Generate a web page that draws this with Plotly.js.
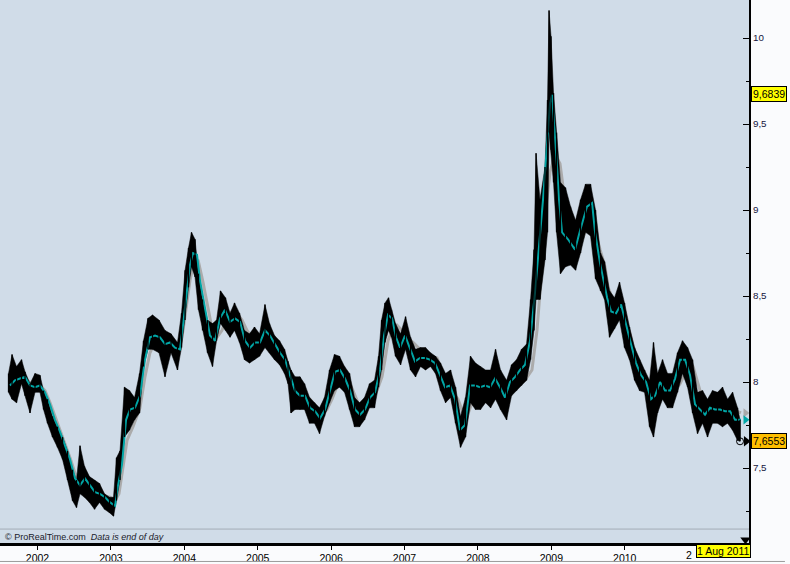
<!DOCTYPE html>
<html><head><meta charset="utf-8">
<script src="https://cdn.plot.ly/plotly-3.0.1.min.js"></script>
<style>html,body{margin:0;padding:0;background:#fafbfd;} #chart{width:790px;height:564px;}</style>
</head><body><div id="chart"></div>
<script>
// Price: decimal-year sample times with high / low of the bars around them
const priceT = [2001.605,2001.653,2001.714,2001.782,2001.830,2001.898,2001.966,2002.034,2002.082,2002.136,
2002.204,2002.272,2002.341,2002.409,2002.477,2002.531,2002.579,2002.640,2002.708,2002.777,
2002.845,2002.913,2002.981,2003.035,2003.076,2003.124,2003.185,2003.253,2003.322,2003.390,
2003.444,2003.505,2003.567,2003.655,2003.737,2003.819,2003.907,2003.962,2004.010,2004.057,
2004.098,2004.146,2004.193,2004.248,2004.316,2004.384,2004.439,2004.493,2004.561,2004.623,
2004.684,2004.752,2004.820,2004.888,2004.956,2005.025,2005.099,2005.161,2005.229,2005.297,
2005.365,2005.413,2005.454,2005.508,2005.576,2005.638,2005.706,2005.774,2005.842,2005.910,
2005.978,2006.046,2006.114,2006.183,2006.251,2006.319,2006.387,2006.455,2006.523,2006.591,
2006.646,2006.687,2006.734,2006.782,2006.823,2006.877,2006.946,2007.014,2007.082,2007.150,
2007.218,2007.286,2007.354,2007.422,2007.490,2007.559,2007.627,2007.695,2007.763,2007.831,
2007.899,2007.967,2008.035,2008.104,2008.172,2008.240,2008.308,2008.390,2008.458,2008.526,
2008.594,2008.662,2008.717,2008.764,2008.792,2008.846,2008.914,2008.948,2008.969,2008.996,
2009.030,2009.071,2009.125,2009.193,2009.262,2009.330,2009.398,2009.466,2009.534,2009.602,
2009.670,2009.725,2009.793,2009.861,2009.929,2009.997,2010.065,2010.134,2010.202,2010.270,
2010.338,2010.392,2010.447,2010.515,2010.583,2010.651,2010.719,2010.787,2010.856,2010.924,
2010.992,2011.060,2011.128,2011.196,2011.264,2011.332,2011.401,2011.469,2011.537,2011.571];
const priceHigh = [8.05,8.16,8.09,8.13,8.06,7.99,8.05,8.04,7.95,7.90,
7.80,7.74,7.68,7.60,7.49,7.43,7.63,7.51,7.45,7.43,
7.41,7.35,7.33,7.33,7.56,7.60,7.97,7.95,7.91,8.05,
8.24,8.37,8.39,8.36,8.30,8.28,8.23,8.40,8.65,8.78,
8.87,8.83,8.63,8.48,8.36,8.34,8.36,8.53,8.49,8.40,
8.46,8.40,8.30,8.28,8.32,8.28,8.45,8.34,8.27,8.24,
8.19,8.12,8.07,8.03,8.03,7.99,7.91,7.88,7.85,7.91,
8.07,8.16,8.15,8.09,8.05,7.91,7.88,7.91,7.99,8.01,
8.15,8.36,8.46,8.49,8.42,8.34,8.28,8.38,8.26,8.19,
8.20,8.20,8.17,8.15,8.11,8.05,8.07,7.97,7.80,7.91,
8.15,8.11,8.09,8.07,8.07,8.19,8.07,8.01,8.10,8.13,
8.19,8.22,8.48,8.77,9.33,9.06,9.25,9.64,10.16,10.01,
9.68,9.45,9.16,9.13,9.02,8.94,9.06,9.15,9.15,9.00,
8.75,8.70,8.53,8.49,8.58,8.46,8.32,8.20,8.13,8.07,
8.01,8.23,8.05,8.13,8.05,8.05,8.17,8.24,8.20,8.13,
7.94,7.95,7.90,7.95,7.94,7.97,7.90,7.94,7.85,7.78];
const priceLow = [7.94,7.90,7.88,7.99,7.92,7.82,7.94,7.94,7.84,7.76,
7.68,7.62,7.55,7.43,7.31,7.27,7.35,7.33,7.30,7.26,
7.30,7.26,7.24,7.22,7.31,7.43,7.68,7.72,7.78,7.82,
8.09,8.19,8.19,8.17,8.03,8.17,8.07,8.20,8.36,8.55,
8.67,8.61,8.42,8.30,8.17,8.09,8.24,8.34,8.30,8.26,
8.30,8.23,8.13,8.11,8.13,8.15,8.20,8.17,8.13,8.10,
8.05,7.99,7.82,7.84,7.84,7.84,7.76,7.76,7.70,7.80,
7.88,7.95,7.97,7.94,7.84,7.74,7.74,7.78,7.85,7.85,
7.97,8.07,8.23,8.30,8.26,8.15,8.10,8.19,8.07,8.03,
8.09,8.07,8.09,8.05,7.95,7.88,7.91,7.76,7.62,7.68,
7.88,7.84,7.84,7.88,7.85,7.90,7.84,7.78,7.92,7.95,
7.98,8.01,8.13,8.30,8.48,8.48,8.71,8.87,9.45,9.35,
9.16,8.87,8.63,8.67,8.68,8.65,8.75,8.87,8.85,8.60,
8.53,8.48,8.26,8.31,8.36,8.20,8.13,8.01,7.95,7.94,
7.74,7.68,7.82,7.90,7.85,7.85,7.94,8.05,7.97,7.82,
7.70,7.76,7.68,7.76,7.76,7.74,7.76,7.72,7.66,7.6553];

// Short moving average (cyan)
const fastT = [2001.625,2001.693,2001.762,2001.830,2001.898,2001.966,2002.034,2002.102,2002.170,2002.238,
2002.307,2002.375,2002.443,2002.511,2002.579,2002.647,2002.715,2002.783,2002.851,2002.920,
2002.988,2003.056,2003.097,2003.151,2003.206,2003.260,2003.328,2003.396,2003.464,2003.532,
2003.601,2003.669,2003.737,2003.805,2003.873,2003.941,2003.982,2004.036,2004.077,2004.118,
2004.173,2004.214,2004.282,2004.350,2004.418,2004.486,2004.554,2004.623,2004.691,2004.759,
2004.827,2004.895,2004.963,2005.031,2005.099,2005.167,2005.236,2005.304,2005.372,2005.440,
2005.508,2005.576,2005.644,2005.713,2005.781,2005.849,2005.917,2005.985,2006.053,2006.121,
2006.189,2006.258,2006.326,2006.394,2006.462,2006.530,2006.598,2006.666,2006.721,2006.775,
2006.830,2006.884,2006.939,2007.007,2007.075,2007.143,2007.211,2007.279,2007.347,2007.416,
2007.484,2007.552,2007.620,2007.688,2007.756,2007.824,2007.893,2007.961,2008.029,2008.097,
2008.165,2008.233,2008.301,2008.369,2008.437,2008.506,2008.574,2008.642,2008.710,2008.778,
2008.887,2008.941,2008.982,2009.010,2009.050,2009.078,2009.105,2009.146,2009.227,2009.323,
2009.391,2009.486,2009.555,2009.596,2009.664,2009.760,2009.814,2009.882,2009.950,2010.018,
2010.086,2010.154,2010.222,2010.290,2010.358,2010.413,2010.481,2010.549,2010.617,2010.686,
2010.754,2010.822,2010.890,2010.958,2011.026,2011.094,2011.162,2011.230,2011.299,2011.367,
2011.435,2011.503,2011.584];
const fastV = [7.98,8.01,8.02,8.03,7.98,7.97,7.98,7.94,7.87,7.78,
7.71,7.63,7.55,7.44,7.40,7.44,7.40,7.36,7.35,7.33,
7.30,7.28,7.40,7.52,7.78,7.84,7.85,7.92,8.13,8.26,
8.27,8.26,8.22,8.23,8.20,8.19,8.33,8.53,8.68,8.75,
8.74,8.59,8.42,8.27,8.24,8.37,8.42,8.35,8.37,8.35,
8.24,8.20,8.23,8.23,8.30,8.27,8.22,8.17,8.13,8.04,
7.95,7.92,7.92,7.85,7.83,7.79,7.84,7.95,8.06,8.07,
8.02,7.95,7.84,7.81,7.84,7.91,7.94,8.07,8.27,8.39,
8.37,8.26,8.20,8.27,8.19,8.12,8.14,8.14,8.13,8.11,
8.04,7.97,7.98,7.90,7.72,7.75,7.98,7.98,7.97,7.98,
7.97,8.02,7.97,7.91,8.00,8.03,8.07,8.10,8.24,8.52,
9.06,9.35,9.62,9.67,9.45,9.25,9.06,8.87,8.83,8.77,
8.88,9.02,9.04,8.87,8.69,8.49,8.41,8.40,8.45,8.33,
8.22,8.11,8.04,8.00,7.90,7.92,8.00,7.95,7.95,8.02,
8.13,8.13,8.04,7.87,7.84,7.81,7.85,7.84,7.84,7.83,
7.83,7.78,7.78];

// Long moving average (grey)
const slowT = [2001.625,2001.762,2001.857,2001.939,2002.034,2002.102,2002.170,2002.238,2002.307,2002.375,
2002.443,2002.511,2002.579,2002.674,2002.743,2002.811,2002.892,2002.988,2003.056,2003.110,
2003.165,2003.219,2003.301,2003.396,2003.464,2003.532,2003.601,2003.710,2003.805,2003.941,
2003.982,2004.036,2004.077,2004.118,2004.187,2004.255,2004.309,2004.350,2004.391,2004.446,
2004.514,2004.582,2004.650,2004.718,2004.786,2004.854,2004.923,2004.991,2005.072,2005.140,
2005.208,2005.263,2005.345,2005.413,2005.508,2005.617,2005.713,2005.808,2005.876,2005.944,
2006.012,2006.094,2006.217,2006.298,2006.394,2006.462,2006.530,2006.625,2006.693,2006.734,
2006.775,2006.830,2006.898,2006.966,2007.034,2007.116,2007.211,2007.347,2007.443,2007.511,
2007.579,2007.661,2007.729,2007.797,2007.852,2007.920,2007.988,2008.069,2008.165,2008.260,
2008.342,2008.437,2008.546,2008.641,2008.736,2008.805,2008.873,2008.914,2008.982,2009.050,
2009.118,2009.159,2009.214,2009.282,2009.350,2009.432,2009.500,2009.555,2009.596,2009.664,
2009.732,2009.773,2009.841,2009.936,2010.004,2010.072,2010.140,2010.208,2010.277,2010.345,
2010.413,2010.481,2010.617,2010.686,2010.754,2010.822,2010.890,2010.931,2010.985,2011.026,
2011.094,2011.162,2011.230,2011.299,2011.394,2011.476,2011.584];
const slowV = [7.99,8.04,8.01,7.98,7.98,7.95,7.88,7.80,7.72,7.65,
7.56,7.47,7.43,7.44,7.43,7.37,7.34,7.33,7.31,7.35,
7.51,7.66,7.74,7.85,8.03,8.17,8.23,8.22,8.23,8.20,
8.30,8.46,8.59,8.67,8.71,8.58,8.46,8.36,8.28,8.26,
8.30,8.38,8.41,8.40,8.36,8.30,8.26,8.24,8.24,8.26,
8.24,8.20,8.15,8.08,7.97,7.91,7.90,7.85,7.82,7.84,
7.90,7.99,8.03,7.95,7.85,7.84,7.90,7.95,8.03,8.13,
8.24,8.30,8.33,8.30,8.26,8.23,8.19,8.15,8.14,8.07,
7.99,7.94,7.90,7.82,7.80,7.88,7.94,7.97,7.97,7.97,
7.97,7.95,7.98,8.01,8.07,8.30,8.67,8.96,9.22,9.32,
9.27,9.13,8.96,8.83,8.81,8.84,8.93,8.95,8.88,8.77,
8.67,8.55,8.48,8.42,8.38,8.28,8.17,8.09,8.03,7.97,
7.94,7.94,7.95,7.95,7.99,8.05,8.11,8.09,8.01,7.95,
7.88,7.82,7.82,7.84,7.84,7.84,7.82];

const yearTicks = [2002,2003,2004,2005,2006,2007,2008,2009,2010];
const yearLabels = ['2002','2003','2004','2005','2006','2007','2008','2009','2010'];
const hiddenYearLabel = '2';      // only visible part of "2011", the rest is covered by the date box
const lastClose = 7.6553;
const lastDateLabel = '1 Aug 2011';
const markLevel = 9.6839;

const fmt = v => v.toFixed(4).replace('.', ',');

// high/low envelope polygon and vertical bars
const envX = priceT.concat(priceT.slice().reverse());
const envY = priceHigh.concat(priceLow.slice().reverse());
const bx = [], by = [];
for (let i = 0; i < priceT.length; i++) {
  bx.push(priceT[i], priceT[i], null);
  by.push(priceLow[i], priceHigh[i], null);
}

const lastT = priceT[priceT.length - 1];
const endT = 2011.645;

const traces = [
  {x: slowT, y: slowV, type: 'scatter', mode: 'lines', line: {color: '#ababab', width: 3}, hoverinfo: 'skip'},
  {x: envX, y: envY, type: 'scatter', mode: 'lines', fill: 'toself', fillcolor: '#000000',
   line: {color: '#000000', width: 0.5}, hoverinfo: 'skip'},
  {x: fastT, y: fastV, type: 'scatter', mode: 'lines', line: {color: '#00a6a6', width: 2}, hoverinfo: 'skip'},
  {x: bx, y: by, type: 'scatter', mode: 'lines', line: {color: '#000000', width: 1.3}, hoverinfo: 'skip', connectgaps: false},
  {x: [endT, endT], y: [slowV[slowV.length - 1], fastV[fastV.length - 1]], type: 'scatter', mode: 'markers',
   marker: {symbol: 'triangle-right', size: 8, color: ['#a9a9a9', '#00a6a6']}, cliponaxis: false, hoverinfo: 'skip'},
  {x: [lastT], y: [lastClose], type: 'scatter', mode: 'markers',
   marker: {symbol: 'circle-open', size: 7, color: '#000', line: {width: 1, color: '#000'}}, cliponaxis: false, hoverinfo: 'skip'},
  {x: [2011.655], y: [lastClose], type: 'scatter', mode: 'markers',
   marker: {symbol: 'triangle-right', size: 9, color: '#000'}, cliponaxis: false, hoverinfo: 'skip'},
  {x: [endT], y: [7.083], type: 'scatter', mode: 'markers',
   marker: {symbol: 'triangle-down', size: 9, color: '#000'}, cliponaxis: false, hoverinfo: 'skip'}
];

const layout = {
  width: 790, height: 564,
  margin: {l: 0, r: 41, t: 0, b: 21, pad: 0},
  paper_bgcolor: '#fafbfd', plot_bgcolor: '#d0dce8',
  separators: ',.',
  showlegend: false,
  font: {family: 'Liberation Sans, Arial, sans-serif', size: 10, color: '#000'},
  xaxis: {type: 'linear', range: [2001.489, 2011.693], tickmode: 'array', tickvals: yearTicks, ticktext: yearLabels,
          ticks: 'outside', ticklen: 4, tickcolor: '#000', showgrid: false, zeroline: false,
          showline: true, linecolor: '#000', linewidth: 2.5, tickfont: {size: 10.5, color: '#000'}, fixedrange: true},
  yaxis: {side: 'right', range: [7.064, 10.221], tickmode: 'linear', dtick: 0.5, tick0: 0, ticks: 'inside', ticklen: 6,
          tickcolor: '#000', showgrid: false, zeroline: false, showline: true, linecolor: '#000', linewidth: 2,
          tickfont: {size: 9.8, color: '#14143c'}, fixedrange: true,
          minor: {dtick: 0.25, tick0: 0, ticks: 'inside', ticklen: 3, tickcolor: '#000', showgrid: false}},
  shapes: [
    {type: 'line', xref: 'paper', x0: 0, x1: 1, yref: 'y', y0: 7.145, y1: 7.145, line: {color: '#a3acb6', width: 1}},
    {type: 'line', xref: 'paper', x0: 0, x1: 1.048, yref: 'paper', y0: -0.034, y1: -0.034, line: {color: '#9a9a9a', width: 1}}
  ],
  annotations: [
    {text: '© ProRealTime.com\u00a0 <i>Data is end of day</i>', xref: 'paper', x: 0.004, xanchor: 'left',
     yref: 'paper', y: 0.011, yanchor: 'middle', showarrow: false, font: {size: 9, color: '#1a1a2a'}},
    {text: hiddenYearLabel, xref: 'paper', x: 0.9195, xanchor: 'center', yref: 'paper', y: -0.0215, yanchor: 'middle',
     showarrow: false, font: {size: 10.5, color: '#000'}},
    {text: fmt(markLevel), xref: 'paper', x: 1.0027, xanchor: 'left', yref: 'y', y: markLevel, yanchor: 'middle', yshift: -2,
     showarrow: false, bgcolor: '#ffff00', bordercolor: '#000', borderwidth: 1, borderpad: 1, font: {size: 10.5, color: '#000'}},
    {text: fmt(lastClose), xref: 'paper', x: 1.0027, xanchor: 'left', yref: 'y', y: lastClose, yanchor: 'middle',
     showarrow: false, bgcolor: '#ffbf00', bordercolor: '#000', borderwidth: 1, borderpad: 1, font: {size: 10.5, color: '#000'}},
    {text: lastDateLabel, xref: 'paper', x: 1.0027, xanchor: 'right', yref: 'paper', y: -0.0147, yanchor: 'middle',
     showarrow: false, bgcolor: '#ffff00', bordercolor: '#000', borderwidth: 1, borderpad: 0, font: {size: 10.5, color: '#000'}}
  ]
};

Plotly.newPlot('chart', traces, layout, {displayModeBar: false, staticPlot: true});
</script>
</body></html>
